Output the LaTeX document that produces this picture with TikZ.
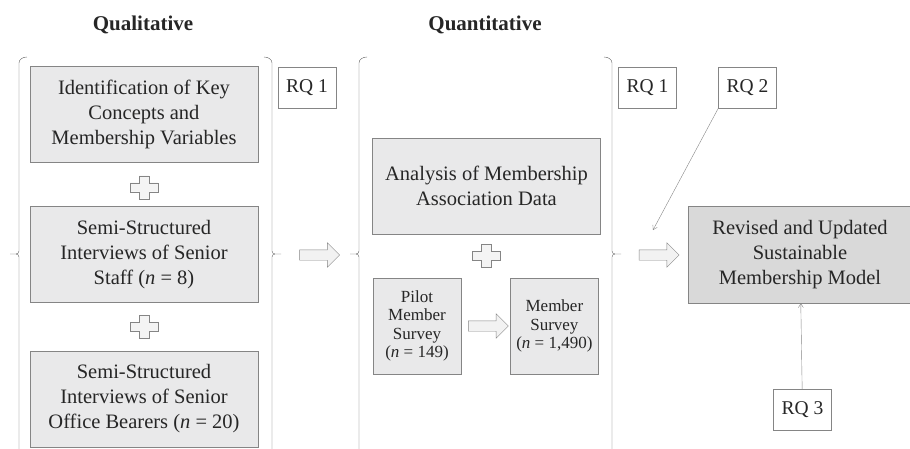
\documentclass[tikz,border=0pt]{standalone}
\usepackage{fontspec}
\setmainfont{Liberation Serif}
\usepackage{tikz}
\usetikzlibrary{arrows.meta,positioning,shapes.arrows,calc}
\definecolor{boxgray}{HTML}{E9E9EA}
\definecolor{modelgray}{HTML}{D9D9D9}
\definecolor{linegray}{HTML}{858585}
\definecolor{txt}{HTML}{262626}

\begin{document}
\begin{tikzpicture}[x=1pt,y=-1pt,node distance=44pt,
  box/.style={draw=linegray,fill=boxgray,minimum width=228pt,minimum height=96pt,align=center,text=txt,font=\fontsize{20.5}{25}\selectfont},
  small/.style={box,minimum width=88pt,font=\fontsize{17}{18.5}\selectfont},
  rq/.style={draw=linegray,fill=white,minimum width=58pt,minimum height=41pt,text=txt,font=\fontsize{19.5}{22}\selectfont},
  head/.style={text=txt,font=\fontsize{21}{24}\selectfont\bfseries},
  fat/.style={single arrow,draw=linegray,fill=boxgray!60,minimum height=40pt,single arrow head extend=7pt,inner sep=5pt},
  bracket/.pic={\draw[linegray!70!black] (8,-197) to[out=180,in=90] (0,-191) -- (0,-3) to[out=-90,in=0] (-3,0) -- (-9,0) (-3,0) to[out=0,in=90] (0,3) -- (0,210);},
  plussign/.pic={\draw[linegray,fill=boxgray!50] (-5,-11.5) -- (5,-11.5) -- (5,-4.5) -- (14,-4.5) -- (14,4.5) -- (5,4.5) -- (5,11.5) -- (-5,11.5) -- (-5,4.5) -- (-14,4.5) -- (-14,-4.5) -- (-5,-4.5) -- cycle;},
  >={Straight Barb[length=4pt,width=5pt]}]
\useasboundingbox (0,0) rectangle (910,448);
\clip (0,0) rectangle (910,448);
% headings
\node[head] (qual) at (143,25) {Qualitative};
\node[head] (quant) at (485,25) {Quantitative};
% qualitative part
\node[box] (ident) at (144,114) {Identification of Key\\Concepts and\\Membership Variables};
\node[box,below=of ident] (staff) {Semi-Structured\\Interviews of Senior\\Staff (\textit{n} = 8)};
\node[box,below=48pt of staff] (bearers) {Semi-Structured\\Interviews of Senior\\Office Bearers (\textit{n} = 20)};
\pic at ($(ident.south)!.5!(staff.north)+(0,3)$) {plussign};
\pic at ($(staff.south)!.5!(bearers.north)$) {plussign};
\pic at (19,254) {bracket};
\pic[xscale=-1] at (272,254) {bracket};
\node[rq] (rqa) at (307,87.5) {RQ 1};
\node[fat] (go1) at (317,255) {};
% quantitative part
\node[box] (data) at (486.5,186) {Analysis of Membership\\Association Data};
\node[small] (pilot) at (417,326) {Pilot\\Member\\Survey\\(\textit{n} = 149)};
\node[small,right=49pt of pilot] (survey) {Member\\Survey\\(\textit{n} = 1,490)};
\node[fat] (go2) at ($(pilot.east)!.5!(survey.west)$) {};
\pic at ($(data.south)!.5!(pilot.north -| data.south)$) {plussign};
\pic at (359,254) {bracket};
\pic[xscale=-1] at (612,254) {bracket};
\node[rq] (rqb) at (647.5,87.5) {RQ 1};
\node[rq] (rqc) at (747.5,87.5) {RQ 2};
\node[fat] (go3) at (656.5,255) {};
% model
\node[box,fill=modelgray,minimum width=224pt,minimum height=97pt] (model) at (800,254.5) {Revised and Updated\\Sustainable\\Membership Model};
\node[rq] (rqd) at (802.5,410) {RQ 3};
\coordinate (rqend) at (653,230);
\draw[->,linegray] (rqc.south west) -- (rqend);
\draw[->,linegray] (rqd) -- (model);
\end{tikzpicture}
\end{document}
